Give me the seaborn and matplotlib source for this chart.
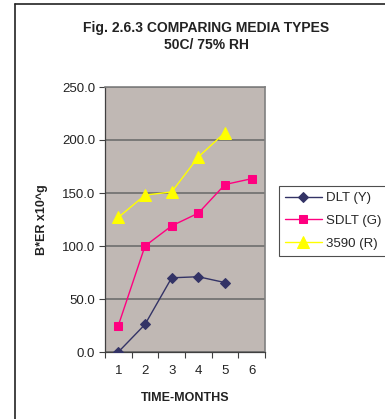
import matplotlib
matplotlib.use("Agg")
import matplotlib.pyplot as plt
from matplotlib.ticker import FixedLocator, NullFormatter, FixedFormatter
import seaborn as sns
import pandas as pd

months = ["1", "2", "3", "4", "5", "6"]
dlt_y = [0.0, 26.0, 70.0, 71.0, 65.5]
sdlt_g = [25.0, 100.0, 119.0, 131.0, 158.0, 163.5]
r3590 = [127.0, 148.0, 151.0, 184.0, 207.0]
series_names = ["DLT (Y)", "SDLT (G)", "3590 (R)"]
y_ticks = [0, 50, 100, 150, 200, 250]

sns.set_theme(style="white")
plt.rcParams["font.family"] = ["Liberation Sans", "DejaVu Sans"]

rows = []
for name, vals in zip(series_names, [dlt_y, sdlt_g, r3590]):
    for i, v in enumerate(vals):
        rows.append({"month": i, "value": v, "series": name})
df = pd.DataFrame(rows)

fig = plt.figure(figsize=(3.85, 4.19), dpi=100)
ax = fig.add_axes([105 / 385, 1 - 352 / 419, 160 / 385, 265 / 419])
ax.set_facecolor("#C0B8B4")

palette = {"DLT (Y)": "#333366", "SDLT (G)": "#FF0080", "3590 (R)": "#FFFF00"}
markers = {"DLT (Y)": "D", "SDLT (G)": "s", "3590 (R)": "^"}
sizes = {"DLT (Y)": 5, "SDLT (G)": 6, "3590 (R)": 8}
for name in series_names:
    sub = df[df.series == name]
    sns.lineplot(data=sub, x="month", y="value", ax=ax, color=palette[name],
                 marker=markers[name], markersize=sizes[name],
                 markeredgecolor=palette[name], linewidth=1.0, label=name,
                 legend=False, zorder=3)

ax.set_xlim(-0.5, 5.5)
ax.set_ylim(0, 250)

# category boundaries carry the tick marks, centers carry the labels
ax.xaxis.set_major_locator(FixedLocator([i - 0.5 for i in range(len(months) + 1)]))
ax.xaxis.set_major_formatter(NullFormatter())
ax.xaxis.set_minor_locator(FixedLocator(list(range(len(months)))))
ax.xaxis.set_minor_formatter(FixedFormatter(months))
ax.tick_params(axis="x", which="major", direction="out", length=4, width=0.8,
               color="#404040", bottom=True)
ax.tick_params(axis="x", which="minor", length=0, labelsize=9.5,
               labelcolor="#222222", pad=9, bottom=True)

ax.set_yticks(y_ticks)
ax.set_yticklabels([f"{v:.1f}" for v in y_ticks])
ax.tick_params(axis="y", direction="out", length=4, width=0.8, color="#404040",
               labelsize=9.5, labelcolor="#222222", left=True, pad=3)

ax.grid(axis="y", color="#6E6E6E", linewidth=1.2)
ax.set_axisbelow(True)
for side in ["top", "right"]:
    ax.spines[side].set_color("#808080")
    ax.spines[side].set_linewidth(1.2)
for side in ["left", "bottom"]:
    ax.spines[side].set_color("#404040")
    ax.spines[side].set_linewidth(0.9)

ax.set_xlabel("TIME-MONTHS", fontsize=9, fontweight="bold", color="#222222",
              labelpad=11)
ax.set_ylabel("B*ER x10^g", fontsize=9, fontweight="bold", color="#222222",
              labelpad=10)

fig.text(0.535, 1 - 28 / 419, "Fig. 2.6.3 COMPARING MEDIA TYPES", ha="center",
         va="center", fontsize=10, fontweight="bold", color="#222222")
fig.text(0.535, 1 - 45 / 419, "50C/ 75% RH", ha="center", va="center",
         fontsize=10, fontweight="bold", color="#222222")

handles, labels = ax.get_legend_handles_labels()
leg = fig.legend(handles, labels, loc="upper left",
                 bbox_to_anchor=(279 / 385, 1 - 186 / 419), frameon=True,
                 fancybox=False, edgecolor="#222222", fontsize=9.5,
                 handlelength=2.8, borderpad=0.45, labelspacing=0.8,
                 handletextpad=0.3, borderaxespad=0)
leg.get_frame().set_linewidth(0.8)

# chart border
fig.add_artist(plt.Line2D([15 / 385, 15 / 385], [0, 1 - 4 / 419],
                          transform=fig.transFigure, color="#222222", lw=1.2))
fig.add_artist(plt.Line2D([15 / 385, 1], [1 - 4 / 419, 1 - 4 / 419],
                          transform=fig.transFigure, color="#222222", lw=1.2))

fig.savefig("out.png", dpi=100)
